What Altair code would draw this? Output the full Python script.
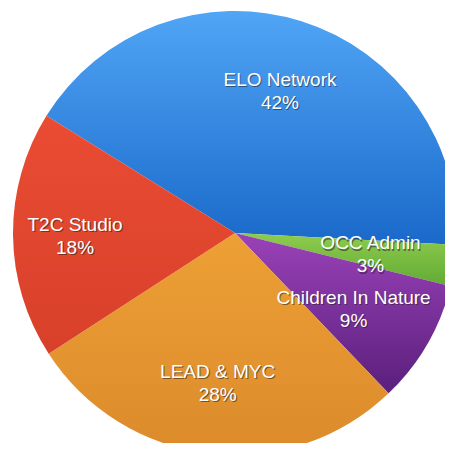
import altair as alt
import pandas as pd

labels = ["ELO Network", "OCC Admin", "Children In Nature", "LEAD & MYC", "T2C Studio"]
values = [42, 3, 9, 28, 18]
pct_labels = ["42%", "3%", "9%", "28%", "18%"]
top_colors = ["#50A5F5", "#8ECC4E", "#9A42B8", "#EDA035", "#EA4C33"]
bottom_colors = ["#1A69CA", "#62AA34", "#5A1F7C", "#DC8A2B", "#D8402A"]

df = pd.DataFrame({
    "idx": list(range(len(labels))),
    "label": labels,
    "value": values,
    "pct": pct_labels,
})

start_angle = -1.015
two_pi = 6.283185307179586
theta_scale = alt.Scale(domain=[0, 100], range=[start_angle, start_angle + two_pi])

base = alt.Chart(df).transform_window(
    end="sum(value)", sort=[alt.SortField("idx")], frame=[None, 0]
).transform_calculate(
    start="datum.end - datum.value",
    mid="datum.end - datum.value / 2",
    text="datum.label + '\\n' + datum.pct",
)

CX, CY, R = 227, 225, 222

layers = []
for i, lab in enumerate(labels):
    grad = alt.LinearGradient(
        gradient="linear", x1=0, y1=0, x2=0, y2=1,
        stops=[alt.GradientStop(offset=0, color=top_colors[i]),
               alt.GradientStop(offset=1, color=bottom_colors[i])],
    )
    layers.append(
        base.transform_filter(alt.datum.idx == i).mark_arc(
            outerRadius=R, color=grad, stroke=None
        ).encode(
            theta=alt.Theta("start:Q", scale=theta_scale),
            theta2="end:Q",
            x=alt.value(CX),
            y=alt.value(CY),
        )
    )

# label groups: (filter, label radius in px, extra vertical nudge)
label_groups = [
    ("datum.idx == 1", 137, 0),
    ("datum.idx == 2", 137, 6),
    ("datum.idx == 4", 160, 0),
    ("datum.idx == 0 || datum.idx == 3", 150, 0),
]


def text_layer(flt, rad, nudge, color, dx, dy, opacity):
    return base.transform_filter(flt).mark_text(
        font="Liberation Sans", fontSize=19, lineBreak="\n", lineHeight=23,
        color=color, opacity=opacity, dx=dx, dy=dy + nudge, align="center", baseline="middle",
    ).encode(
        theta=alt.Theta("mid:Q", scale=theta_scale, stack=None),
        radius=alt.value(rad),
        x=alt.value(CX), y=alt.value(CY),
        text="text:N",
    )


shadows = [text_layer(f, r, n, "#222222", 1, -8.5, 0.55) for f, r, n in label_groups]
texts = [text_layer(f, r, n, "#FFFFFF", 0, -10, 1) for f, r, n in label_groups]

chart = alt.layer(*layers, *shadows, *texts).properties(
    width=437, height=435, padding=0, background="#FFFFFF",
    autosize=alt.AutoSizeParams(type="none"),
).configure_view(stroke=None)

chart.save("out.html", embed_options={"renderer": "svg", "actions": False})
